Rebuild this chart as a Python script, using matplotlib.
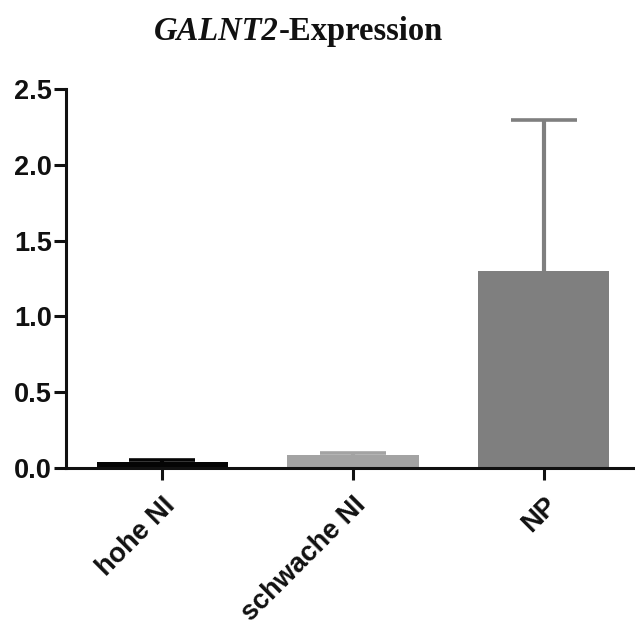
import matplotlib
matplotlib.use('Agg')
import matplotlib.pyplot as plt
import numpy as np

## Data
groups = ['hohe NI', 'schwache NI', 'NP']
means = [0.04, 0.085, 1.30]
errors = [0.01, 0.011, 1.00]
colors = ['#050505', '#a3a3a3', '#7f7f7f']

plt.rcParams['font.family'] = ['Liberation Sans', 'DejaVu Sans']

fig = plt.figure(figsize=(6.35, 6.33), dpi=100)
ax = fig.add_axes([0.104, 0.261, 0.896, 0.598])

x = np.arange(len(groups))
ax.bar(x, means, width=0.69, color=colors, zorder=2)
for xi, m, e, c in zip(x, means, errors, colors):
    # upper error bar only, same colour as the bar
    line, caps, bars = ax.errorbar(xi, m, yerr=[[0], [e]], color=c, elinewidth=3,
                                   capsize=24, capthick=2.6, zorder=1)
    caps[0].set_visible(False)

ax.set_xlim(-0.505, 2.48)
ax.set_ylim(0, 2.5)
ax.set_yticks([0.0, 0.5, 1.0, 1.5, 2.0, 2.5])
ax.set_yticklabels(['0.0', '0.5', '1.0', '1.5', '2.0', '2.5'], fontsize=19.5, fontweight='bold', color='#111111')
ax.set_xticks(x)
ax.set_xticklabels(groups, rotation=45, ha='right', rotation_mode='anchor',
                   fontsize=19.5, fontweight='bold', color='#111111')

for side in ['top', 'right']:
    ax.spines[side].set_visible(False)
for side in ['left', 'bottom']:
    ax.spines[side].set_linewidth(2.2)
    ax.spines[side].set_color('#111111')
ax.tick_params(axis='both', width=2.2, length=8.5, color='#111111')
ax.tick_params(axis='y', pad=1.5)
ax.tick_params(axis='x', pad=9)

## Title: italic gene name + bold serif text
t1 = fig.text(0.243, 0.950, 'GALNT2', fontsize=23.5, fontweight='bold', style='italic',
              family='Liberation Serif', ha='left', va='center', color='#111111')
fig.canvas.draw()
ax.annotate('-Expression', xy=(1, 0.5), xycoords=t1, va='center', ha='left',
            fontsize=23.5, fontweight='bold', family='Liberation Serif', color='#111111',
            annotation_clip=False)

fig.savefig('out.png', dpi=100)
